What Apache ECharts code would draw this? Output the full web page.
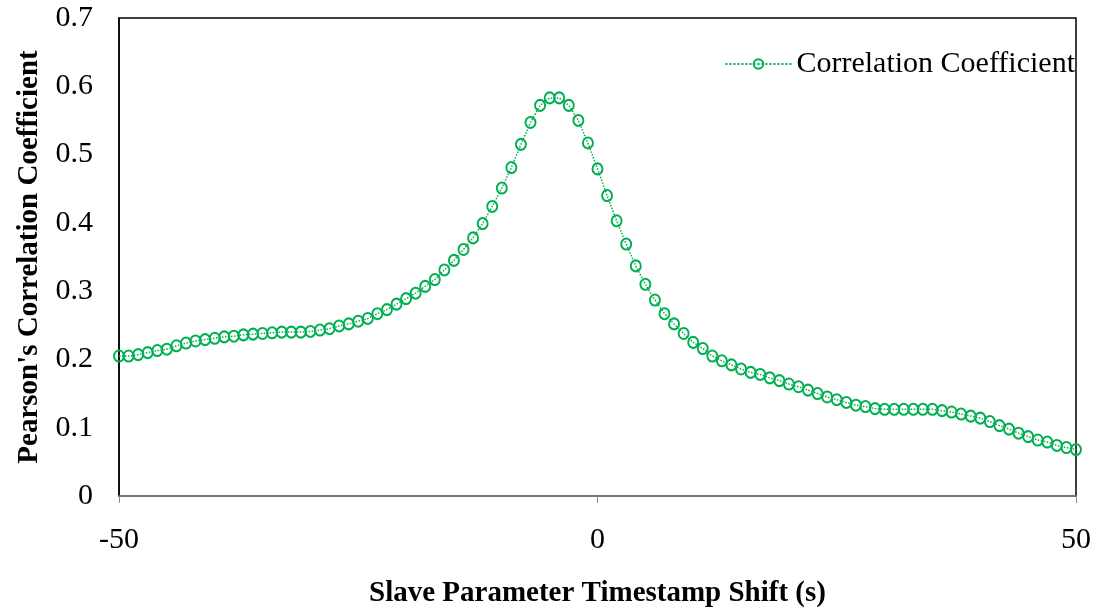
<!DOCTYPE html>
<html>
<head>
<meta charset="utf-8">
<script src="https://cdn.jsdelivr.net/npm/echarts@6/dist/echarts.min.js"></script>
<style>
  html, body { margin: 0; padding: 0; background: #fff; }
  #chart { width: 1099px; height: 613px; }
</style>
</head>
<body>
<div id="chart"></div>
<script>
// Timestamp shift of the slave parameter, in seconds (one step per second)
const shifts = [];
for (let s = -50; s <= 50; s++) shifts.push(s);

// Pearson's correlation coefficient for each shift
const correlation = [
  0.205, 0.205, 0.207, 0.210, 0.213, 0.215, 0.220, 0.224, 0.227, 0.229,
  0.231, 0.233, 0.234, 0.236, 0.237, 0.238, 0.239, 0.240, 0.240, 0.240,
  0.241, 0.243, 0.245, 0.249, 0.252, 0.256, 0.260, 0.267, 0.273, 0.281,
  0.289, 0.297, 0.307, 0.317, 0.331, 0.345, 0.361, 0.378, 0.399, 0.424,
  0.451, 0.481, 0.515, 0.547, 0.572, 0.583, 0.583, 0.572, 0.550, 0.517,
  0.479, 0.440, 0.403, 0.369, 0.337, 0.310, 0.287, 0.267, 0.252, 0.238,
  0.225, 0.216, 0.205, 0.198, 0.192, 0.186, 0.181, 0.178, 0.173, 0.169,
  0.164, 0.160, 0.155, 0.150, 0.145, 0.141, 0.137, 0.133, 0.131, 0.128,
  0.127, 0.127, 0.127, 0.127, 0.127, 0.127, 0.125, 0.123, 0.120, 0.117,
  0.114, 0.109, 0.103, 0.098, 0.092, 0.087, 0.082, 0.079, 0.074, 0.071,
  0.068
];

const xTicks = [-50, 0, 50];
const yTicks = ['0', '0.1', '0.2', '0.3', '0.4', '0.5', '0.6', '0.7'];

const seriesName = 'Correlation Coefficient';
const xTitle = 'Slave Parameter Timestamp Shift (s)';
const yTitle = "Pearson's Correlation Coefficient";

const points = shifts.map((s, i) => [s, correlation[i]]);

const green = '#00B050';
const serif = '"Liberation Serif", "Times New Roman", serif';

const chart = echarts.init(document.getElementById('chart'), null, { renderer: 'canvas' });
chart.setOption({
  animation: false,
  backgroundColor: '#fff',
  textStyle: { fontFamily: serif },
  grid: {
    left: 119, right: 23, top: 18, bottom: 116,
    show: true, borderColor: '#000', borderWidth: 1.5, backgroundColor: 'transparent'
  },
  legend: {
    data: [seriesName],
    right: 19, top: 44,
    itemWidth: 66, itemHeight: 12,
    textStyle: { fontFamily: serif, fontSize: 30, color: '#000' }
  },
  xAxis: {
    type: 'value', min: -50, max: 50, interval: 50,
    name: xTitle, nameLocation: 'middle', nameGap: 83,
    nameTextStyle: { fontFamily: serif, fontSize: 29, fontWeight: 'bold', color: '#000' },
    axisLine: { show: true, onZero: false, lineStyle: { color: '#898989', width: 1.5 } },
    axisTick: { show: true, length: 7, lineStyle: { color: '#898989', width: 1 } },
    axisLabel: {
      margin: 29, fontSize: 30, color: '#000', fontFamily: serif,
      formatter: v => xTicks.includes(v) ? String(v) : ''
    },
    splitLine: { show: false }
  },
  yAxis: {
    type: 'value', min: 0, max: 0.7, interval: 0.1,
    name: yTitle, nameLocation: 'middle', nameGap: 75,
    nameTextStyle: { fontFamily: serif, fontSize: 29, fontWeight: 'bold', color: '#000' },
    axisLine: { show: true, onZero: false, lineStyle: { color: '#000', width: 1.5 } },
    axisTick: { show: false },
    axisLabel: {
      margin: 26, fontSize: 30, color: '#000', fontFamily: serif,
      formatter: v => yTicks[Math.round(v * 10)]
    },
    splitLine: { show: false }
  },
  series: [{
    name: seriesName,
    type: 'line',
    data: points,
    symbol: 'circle',
    symbolSize: [10, 11],
    showAllSymbol: true,
    lineStyle: { color: green, width: 1.5, type: 'dotted' },
    itemStyle: { color: 'rgba(255,255,255,0)', borderColor: green, borderWidth: 2 }
  }]
});
</script>
</body>
</html>
